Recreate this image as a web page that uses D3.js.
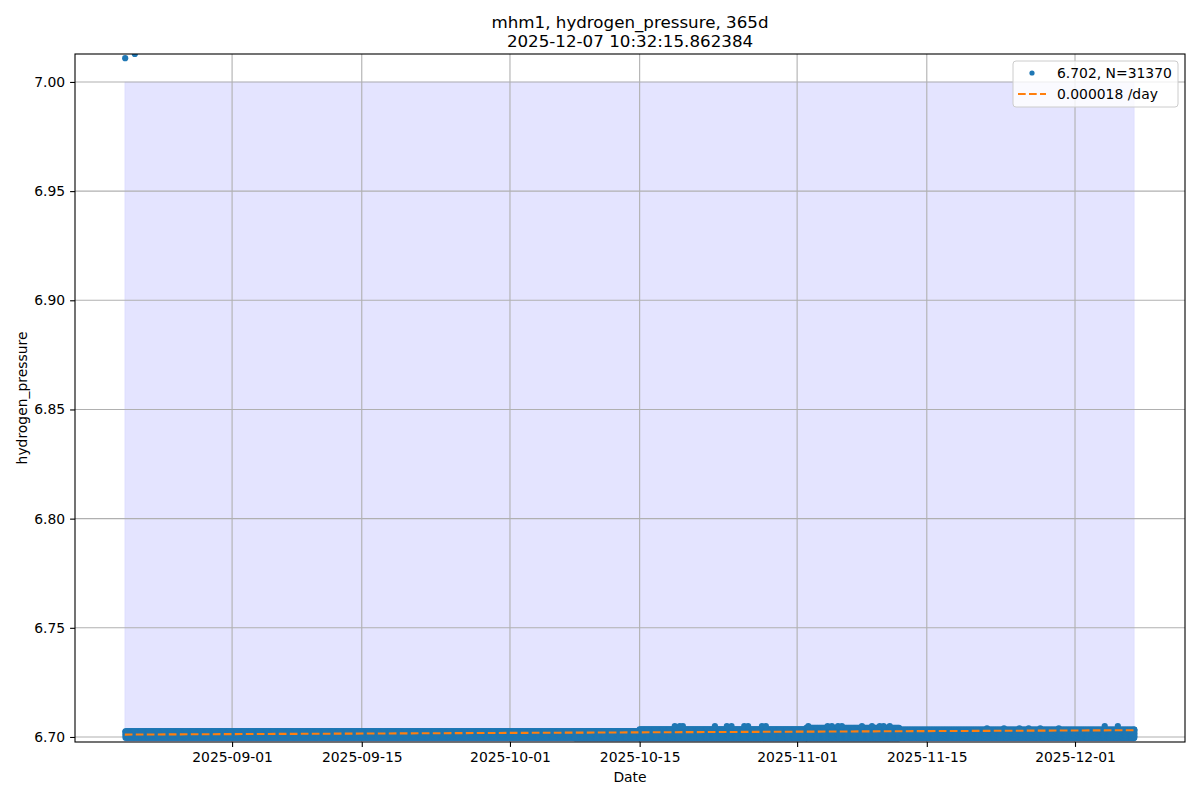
<!DOCTYPE html>
<html>
<head>
<meta charset="utf-8">
<script src="https://cdn.jsdelivr.net/npm/d3@7"></script>
<style>
  body { margin: 0; background: #fff; }
  svg { font-family: "DejaVu Sans", sans-serif; }
</style>
</head>
<body>
<svg id="chart" width="1200" height="800"></svg>
<script>
// ---- data ----
const titleLines = ["mhm1, hydrogen_pressure, 365d", "2025-12-07 10:32:15.862384"];
const xTickLabels = ["2025-09-01", "2025-09-15", "2025-10-01", "2025-10-15", "2025-11-01", "2025-11-15", "2025-12-01"];
const yTickValues = [6.70, 6.75, 6.80, 6.85, 6.90, 6.95, 7.00];

// band segments of the dense scatter (start, end, min value, max value)
const segStart = ["2025-08-20T10:00", "2025-10-08T00:00", "2025-10-15T00:00", "2025-11-02T00:00", "2025-11-12T00:00"];
const segEnd   = ["2025-10-08T00:00", "2025-10-15T00:00", "2025-11-02T00:00", "2025-11-12T00:00", "2025-12-07T09:30"];
const segMin   = [6.6997, 6.6995, 6.6995, 6.6995, 6.6996];
const segMax   = [6.7026, 6.7027, 6.7035, 6.7042, 6.7034];

// isolated points sticking out of the band
const spikeDates = ["2025-10-18T19:00", "2025-10-19T08:00", "2025-10-19T16:00", "2025-10-23T03:00", "2025-10-24T10:00",
  "2025-10-24T22:00", "2025-10-26T07:00", "2025-10-26T17:00", "2025-10-28T05:00", "2025-10-28T15:00",
  "2025-11-02T05:00", "2025-11-04T07:00", "2025-11-04T18:00", "2025-11-05T10:00", "2025-11-05T20:00",
  "2025-11-08T00:00", "2025-11-09T02:00", "2025-11-09T22:00", "2025-11-10T08:00", "2025-11-11T00:00",
  "2025-11-21T12:00", "2025-11-23T08:00", "2025-11-25T00:00", "2025-11-26T00:00", "2025-11-27T06:00",
  "2025-11-29T06:00", "2025-12-04T05:00", "2025-12-05T15:00"];
const spikeValues = [6.7050, 6.7050, 6.7050, 6.7050, 6.7050,
  6.7050, 6.7050, 6.7050, 6.7050, 6.7050,
  6.7050, 6.7050, 6.7050, 6.7050, 6.7050,
  6.7050, 6.7050, 6.7050, 6.7050, 6.7050,
  6.7040, 6.7040, 6.7040, 6.7040, 6.7040,
  6.7040, 6.7050, 6.7050];

// outliers near the top
const outlierDates = ["2025-08-20T11:00", "2025-08-21T12:00"];
const outlierValues = [7.0109, 7.0128];

// trend line
const trendDates = ["2025-08-20T10:00", "2025-12-07T09:30"];
const trendValues = [6.7011, 6.7031];

// shaded span
const spanDates = ["2025-08-20T10:00", "2025-12-07T09:30"];
const spanValues = [6.60, 7.00];

const legendLabels = ["6.702, N=31370", "0.000018 /day"];

// ---- layout ----
const W = 1200, H = 800;
const m = { left: 75, right: 1185, top: 54, bottom: 742 };
const blue = "#1f77b4", orange = "#ff7f0e";
const parse = d3.isoParse;

const svg = d3.select("#chart");
const x = d3.scaleTime()
  .domain([parse("2025-08-15T01:00"), parse("2025-12-12T21:00")])
  .range([m.left, m.right]);
const y = d3.scaleLinear()
  .domain([6.6977, 7.0128])
  .range([m.bottom, m.top]);

svg.append("defs").append("clipPath").attr("id", "clip")
  .append("rect").attr("x", m.left).attr("y", m.top)
  .attr("width", m.right - m.left).attr("height", m.bottom - m.top);

const plot = svg.append("g").attr("clip-path", "url(#clip)");

// shaded span
plot.append("rect")
  .attr("x", x(parse(spanDates[0])))
  .attr("width", x(parse(spanDates[1])) - x(parse(spanDates[0])))
  .attr("y", y(spanValues[1]))
  .attr("height", y(spanValues[0]) - y(spanValues[1]))
  .attr("fill", "rgb(0,0,255)").attr("fill-opacity", 0.105)
  .attr("stroke", "rgb(0,0,255)").attr("stroke-opacity", 0.06).attr("stroke-width", 1);

// grid
const xTicks = xTickLabels.map(d => parse(d));
plot.append("g").selectAll("line").data(xTicks).join("line")
  .attr("x1", d => x(d)).attr("x2", d => x(d))
  .attr("y1", m.top).attr("y2", m.bottom)
  .attr("stroke", "#b0b0b0").attr("stroke-width", 1.1);
plot.append("g").selectAll("line").data(yTickValues).join("line")
  .attr("y1", d => y(d)).attr("y2", d => y(d))
  .attr("x1", m.left).attr("x2", m.right)
  .attr("stroke", "#b0b0b0").attr("stroke-width", 1.1);

// dense scatter band, drawn from the segment ranges
const bandPts = [];
segStart.forEach((s, i) => {
  const t0 = parse(s), t1 = parse(segEnd[i]);
  const times = d3.timeHour.every(3).range(t0, t1);
  times.push(t1);
  const levels = d3.range(segMin[i], segMax[i] + 1e-9, 0.0007);
  levels.push(segMax[i]);
  times.forEach(t => levels.forEach(v => bandPts.push([t, v])));
});
spikeDates.forEach((d, i) => bandPts.push([parse(d), spikeValues[i]]));
outlierDates.forEach((d, i) => bandPts.push([parse(d), outlierValues[i]]));

plot.append("g").selectAll("circle").data(bandPts).join("circle")
  .attr("cx", d => x(d[0])).attr("cy", d => y(d[1]))
  .attr("r", 3.1).attr("fill", blue);

// trend line
plot.append("path")
  .datum(trendDates.map((d, i) => [parse(d), trendValues[i]]))
  .attr("d", d3.line().x(d => x(d[0])).y(d => y(d[1])))
  .attr("fill", "none").attr("stroke", orange).attr("stroke-width", 2.1)
  .attr("stroke-dasharray", "7.7,3.3");

// axes
const xAxis = d3.axisBottom(x).tickValues(xTicks).tickFormat(d3.timeFormat("%Y-%m-%d"))
  .tickSize(4.9).tickPadding(4.9);
const gx = svg.append("g").attr("transform", `translate(0,${m.bottom})`).call(xAxis);
const yAxis = d3.axisLeft(y).tickValues(yTickValues).tickFormat(d3.format(".2f"))
  .tickSize(4.9).tickPadding(4.9);
const gy = svg.append("g").attr("transform", `translate(${m.left},0)`).call(yAxis);
[gx, gy].forEach(g => {
  g.select(".domain").remove();
  g.selectAll(".tick line").attr("stroke", "#000").attr("stroke-width", 1.1);
  g.selectAll(".tick text").attr("fill", "#000").style("font-size", "13.9px")
    .style("font-family", "'DejaVu Sans', sans-serif");
});

// frame
svg.append("rect").attr("x", m.left).attr("y", m.top)
  .attr("width", m.right - m.left).attr("height", m.bottom - m.top)
  .attr("fill", "none").attr("stroke", "#000").attr("stroke-width", 1.1);

// labels
svg.append("text").attr("x", (m.left + m.right) / 2).attr("y", 782)
  .attr("text-anchor", "middle").style("font-size", "13.9px").text("Date");
svg.append("text").attr("transform", `translate(27,${(m.top + m.bottom) / 2}) rotate(-90)`)
  .attr("text-anchor", "middle").style("font-size", "13.9px").text("hydrogen_pressure");

titleLines.forEach((t, i) => {
  svg.append("text").attr("x", (m.left + m.right) / 2).attr("y", 28 + i * 19)
    .attr("text-anchor", "middle").style("font-size", "16.7px").text(t);
});

// legend
const lg = svg.append("g");
lg.append("rect").attr("x", 1013).attr("y", 61).attr("width", 165).attr("height", 46)
  .attr("rx", 3).attr("fill", "#fff").attr("fill-opacity", 0.8)
  .attr("stroke", "#cccccc").attr("stroke-width", 1);
lg.append("circle").attr("cx", 1032).attr("cy", 73).attr("r", 2.6).attr("fill", blue);
lg.append("line").attr("x1", 1018).attr("x2", 1046).attr("y1", 94).attr("y2", 94)
  .attr("stroke", orange).attr("stroke-width", 2.1).attr("stroke-dasharray", "7.7,3.3");
legendLabels.forEach((t, i) => {
  lg.append("text").attr("x", 1057).attr("y", 78 + i * 20.5)
    .style("font-size", "13.9px").text(t);
});
</script>
</body>
</html>
